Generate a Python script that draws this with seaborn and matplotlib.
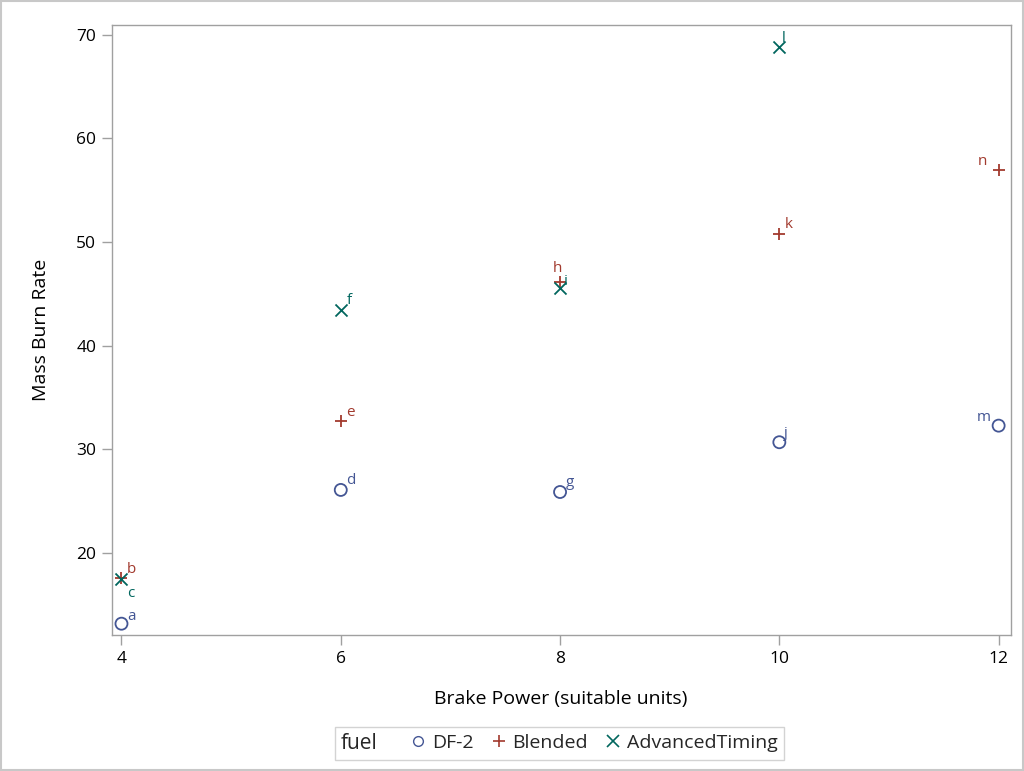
import matplotlib
matplotlib.use("Agg")
import matplotlib.pyplot as plt
from matplotlib.lines import Line2D
from matplotlib.offsetbox import HPacker
import seaborn as sns
import pandas as pd

power = [4, 4, 4, 6, 6, 6, 8, 8, 8, 10, 10, 10, 12, 12]
burn = [13.2, 17.6, 17.5, 26.1, 32.7, 43.5, 25.9, 46.2, 45.6, 30.7, 50.8, 68.8, 32.3, 57.0]
fuel = ["DF-2", "Blended", "AdvancedTiming", "DF-2", "Blended", "AdvancedTiming",
        "DF-2", "Blended", "AdvancedTiming", "DF-2", "Blended", "AdvancedTiming",
        "DF-2", "Blended"]
labels = ["a", "b", "c", "d", "e", "f", "g", "h", "i", "j", "k", "l", "m", "n"]
fuel_order = ["DF-2", "Blended", "AdvancedTiming"]
colors = {"DF-2": "#445694", "Blended": "#A23A2E", "AdvancedTiming": "#01665E"}
markers = {"DF-2": "o", "Blended": "+", "AdvancedTiming": "x"}

df = pd.DataFrame({"power": power, "burn": burn, "fuel": fuel, "label": labels})

sns.set_theme(style="white")
plt.rcParams["font.family"] = ["Open Sans", "DejaVu Sans"]

fig = plt.figure(figsize=(10.24, 7.71), dpi=100)
ax = fig.add_axes([0.109, 0.176, 0.878, 0.792])

for f in fuel_order:
    sub = df[df.fuel == f]
    kw = dict(facecolors="none", edgecolors=colors[f], linewidths=1.3) if f == "DF-2" else dict(color=colors[f], linewidths=1.3)
    sns.scatterplot(data=sub, x="power", y="burn", marker=markers[f], s=75, ax=ax, legend=False, **kw)

offsets = {"a": (4, 3), "b": (4, 4), "c": (4, -13), "d": (4, 4), "e": (4, 4), "f": (4, 4),
           "g": (4, 4), "h": (-5, 7), "i": (3, 2), "j": (3, 4), "k": (4, 4), "l": (2, 4),
           "m": (-16, 3), "n": (-15, 3)}
for _, r in df.iterrows():
    ax.annotate(r["label"], (r["power"], r["burn"]), xytext=offsets[r["label"]],
                textcoords="offset points", fontsize=11, color=colors[r["fuel"]])

ax.set_xlim(3.91, 12.11)
ax.set_ylim(12.08, 70.97)
ax.set_xticks([4, 6, 8, 10, 12])
ax.set_yticks([20, 30, 40, 50, 60, 70])
ax.tick_params(axis="both", which="both", length=7, width=1, color="#a0a0a0", labelcolor="black",
               labelsize=12.5, bottom=True, left=True, pad=4)
ax.set_xlabel("Brake Power (suitable units)", fontsize=14, labelpad=17, color="black")
ax.set_ylabel("Mass Burn Rate", fontsize=14, labelpad=19, color="black")
for sp in ax.spines.values():
    sp.set_color("#a0a0a0")
    sp.set_linewidth(1)

handles = []
for f in fuel_order:
    if f == "DF-2":
        h = Line2D([], [], linestyle="none", marker="o", markerfacecolor="none", markeredgecolor=colors[f], markersize=7, label=f)
    else:
        h = Line2D([], [], linestyle="none", marker=markers[f], color=colors[f], markersize=9, markeredgewidth=1.2, label=f)
    handles.append(h)
leg = fig.legend(handles=handles, title="fuel", title_fontsize=15, loc="center",
                 bbox_to_anchor=(0.546, 0.036), ncol=3, frameon=True,
                 fontsize=14, handlelength=0.8, handletextpad=0.3, columnspacing=0.9, fancybox=False,
                 borderpad=0.3)
try:
    lb = leg._legend_box
    newbox = HPacker(pad=lb.pad, sep=24, align="center",
                     children=[leg._legend_title_box, leg._legend_handle_box])
    newbox.set_figure(fig)
    newbox.set_offset(leg._findoffset)
    leg._legend_box = newbox
except Exception:
    pass
leg.get_frame().set_edgecolor("#c8c8c8")
leg.get_frame().set_linewidth(1)

border = plt.Rectangle((0.001, 0.001), 0.998, 0.998, transform=fig.transFigure, fill=False,
                       edgecolor="#c8c8c8", linewidth=1.5)
fig.patches.append(border)

fig.savefig("out.png", dpi=100)
